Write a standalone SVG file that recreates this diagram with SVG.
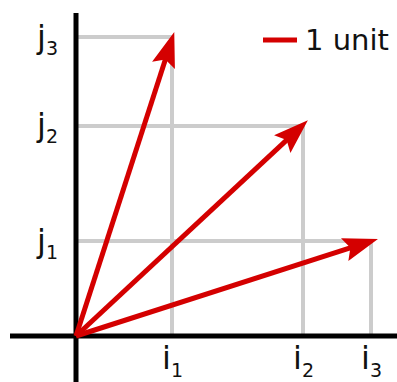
<svg xmlns="http://www.w3.org/2000/svg" width="397" height="382" viewBox="0 0 397 382">
<style>
.grid{stroke:#cccccc;stroke-width:4;fill:none}
.axis{stroke:#000;stroke-width:5;fill:none}
.vec{stroke:#d40000;stroke-width:5;fill:none}
.lbl{font-family:"DejaVu Sans",sans-serif;font-size:32px;fill:#111}
.sub{font-size:19px}
.leg{font-family:"DejaVu Sans",sans-serif;font-size:29px;fill:#111}
</style>
<defs>
<marker id="ah" markerUnits="userSpaceOnUse" markerWidth="36" markerHeight="26" refX="14" refY="13" orient="auto">
<path d="M0,1 L35,13 L0,25 L6,13 z" fill="#d40000"/>
</marker>
</defs>
<rect width="397" height="382" fill="#fff"/>
<g id="grid">
<path class="grid" d="M76,37 H172 M76,126 H303 M76,241 H371 M172,37 V336 M303,126 V336 M371,241 V336"/>
</g>
<g id="axes">
<path class="axis" d="M76,13 V382 M10,336 H397"/>
</g>
<g id="connectors">
<path class="vec" d="M76,336 L167.8,52" marker-end="url(#ah)"/>
<path class="vec" d="M76,336 L292.5,134.6" marker-end="url(#ah)"/>
<path class="vec" d="M76,336 L358,245.4" marker-end="url(#ah)"/>
</g>
<g id="legend">
<line x1="263" y1="40" x2="297" y2="40" stroke="#d40000" stroke-width="5"/>
<text class="leg" x="305" y="50">1 unit</text>
</g>
<g id="label-j3"><text class="lbl" x="37" y="48">j<tspan class="sub" dy="7">3</tspan></text></g>
<g id="label-j2"><text class="lbl" x="37" y="136">j<tspan class="sub" dy="7">2</tspan></text></g>
<g id="label-j1"><text class="lbl" x="37" y="252">j<tspan class="sub" dy="7">1</tspan></text></g>
<g id="label-i1"><text class="lbl" x="162" y="369">i<tspan class="sub" dy="8">1</tspan></text></g>
<g id="label-i2"><text class="lbl" x="293" y="369">i<tspan class="sub" dy="8">2</tspan></text></g>
<g id="label-i3"><text class="lbl" x="361" y="369">i<tspan class="sub" dy="8">3</tspan></text></g>
</svg>
